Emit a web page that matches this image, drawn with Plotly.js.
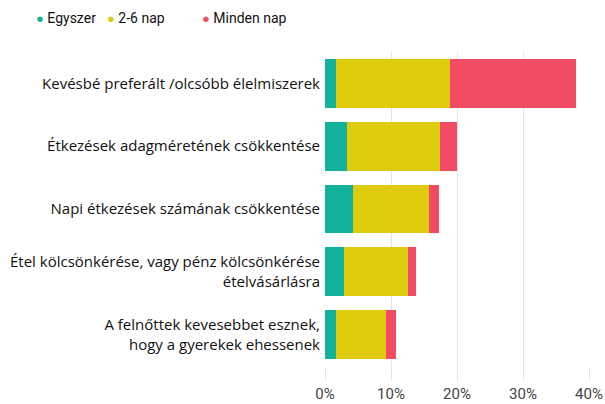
<!DOCTYPE html>
<html><head><meta charset="utf-8">
<script src="https://cdn.plot.ly/plotly-3.0.1.min.js"></script>
<style>html,body{margin:0;padding:0;background:#fff}</style>
</head><body>
<div id="chart" style="width:605px;height:404px"></div>
<script>
const categories = [
  "Kevésbé preferált /olcsóbb élelmiszerek",
  "Étkezések adagméretének csökkentése",
  "Napi étkezések számának csökkentése",
  "Étel kölcsönkérése, vagy pénz kölcsönkérése<br>ételvásárlásra",
  "A felnőttek kevesebbet esznek,<br>hogy a gyerekek ehessenek"
];
const seriesNames = ["Egyszer", "2-6 nap", "Minden nap"];
const egyszer = [1.6, 3.4, 4.2, 2.9, 1.7];
const napok26 = [17.3, 14.0, 11.5, 9.6, 7.5];
const mindenNap = [19.1, 2.6, 1.6, 1.3, 1.6];
const tickVals = [0, 10, 20, 30, 40];
const tickText = ["0%", "10%", "20%", "30%", "40%"];

const colors = ["#12b39a", "#e0cc0f", "#f04c63"];
const values = [egyszer, napok26, mindenNap];

const traces = values.map((v, i) => ({
  type: "bar", orientation: "h",
  x: v, y: categories, name: seriesNames[i],
  marker: {color: colors[i]},
  showlegend: false, hoverinfo: "x+name"
}));

// legend drawn as annotations (dot + name), positions in paper coords
const legendX = [-1.102, -0.835, -0.474];
const annotations = seriesNames.map((n, i) => ({
  xref: "paper", yref: "paper", x: legendX[i], y: 1.108,
  xanchor: "left", yanchor: "middle", showarrow: false,
  text: '<span style="color:' + colors[i] + ';font-size:13px">●</span> ' + n,
  font: {family: "Roboto, sans-serif", size: 14, color: "#111"}
}));

const layout = {
  width: 605, height: 404,
  margin: {l: 325, r: 16, t: 52, b: 38, autoexpand: false},
  barmode: "stack",
  bargap: 0.22,
  paper_bgcolor: "#fff", plot_bgcolor: "#fff",
  font: {family: "Roboto, 'Noto Sans', sans-serif", color: "#222"},
  showlegend: false,
  annotations: annotations,
  xaxis: {
    range: [0, 40], tickvals: tickVals, ticktext: tickText,
    showgrid: true, gridcolor: "#e4e4e4", gridwidth: 1,
    zeroline: false, showline: false,
    ticks: "outside", ticklen: 14, tickcolor: "#e4e4e4",
    tickfont: {family: "Roboto, sans-serif", size: 15, color: "#444"}
  },
  yaxis: {
    type: "category", autorange: "reversed",
    showgrid: false, zeroline: false, showline: false,
    ticks: "", ticklabelstandoff: 4,
    tickfont: {family: "'Open Sans', 'Noto Sans', sans-serif", size: 15, color: "#111"}
  }
};
Plotly.newPlot("chart", traces, layout, {displayModeBar: false, staticPlot: true});
</script>
</body></html>
